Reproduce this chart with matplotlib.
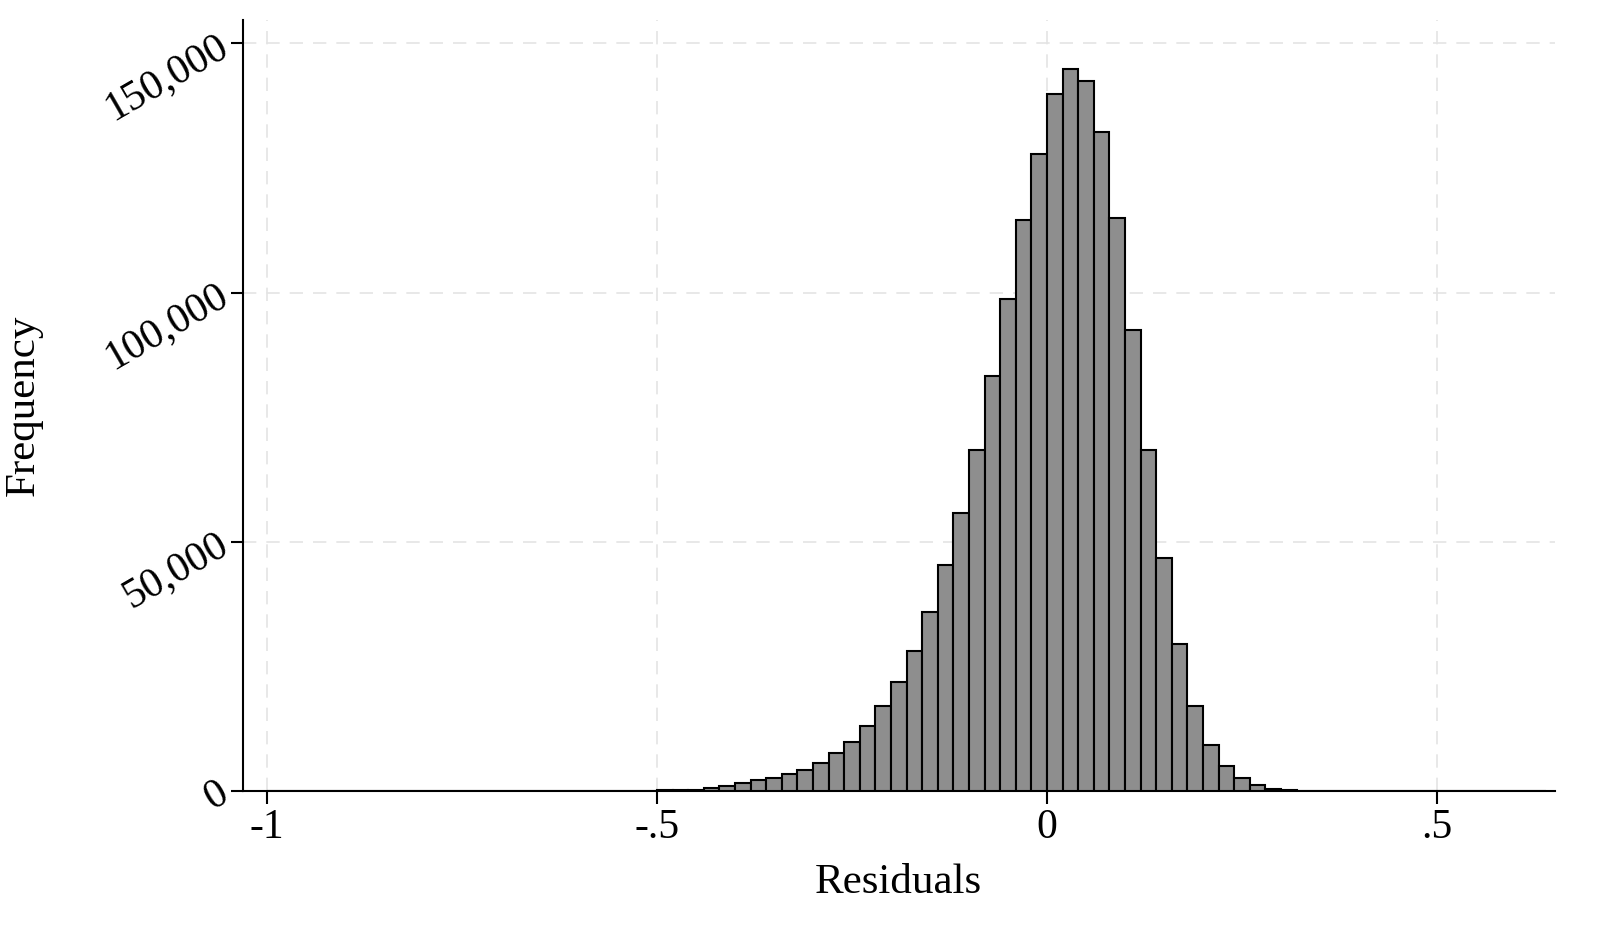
import matplotlib.pyplot as plt
import numpy as np
from matplotlib.ticker import FuncFormatter

plt.rcParams["font.family"] = ["Liberation Serif", "DejaVu Serif"]

# bin width 0.02, left edges from -1.00 up to 0.62
bin_width = 0.02
bin_left = np.round(np.arange(-1.0, 0.64, bin_width), 2)

# counts (from -1.00 up)
tail_left = [80, 60, 50, 40, 40, 30, 30, 30, 30, 30, 30, 30, 30, 30, 30,
             20, 20, 20, 20, 20, 30, 40, 50, 60, 100, 150]      # -1.00 .. -0.50
core = [200, 300, 600, 1000, 1700, 2200, 2600, 3400, 4300, 5700,
        7600, 9800, 13000, 17000, 21900, 28200, 35900, 45400, 55700, 68500,
        83300, 98700, 114500, 127700,                          # -0.48 .. -0.02
        139800, 144800, 142400, 132100, 115000, 92400, 68500, 46800,
        29600, 17000, 9200, 5000, 2700, 1200, 500, 200]        # 0.00 .. 0.30
tail_right = [100, 60, 50, 40, 40, 40, 30, 30, 30, 30, 30, 30, 30, 30,
              30, 30]                                           # 0.32 .. 0.62
counts = np.array(tail_left + core + tail_right, dtype=float)
n = min(len(counts), len(bin_left))
counts = counts[:n]
bin_left = bin_left[:n]

fig = plt.figure(figsize=(16.18, 9.43), dpi=100)
ax = fig.add_axes([0.150, 0.161, 0.811, 0.818])

ax.bar(bin_left, counts, width=bin_width, align="edge",
       color="#8e8e8e", edgecolor="black", linewidth=1.5, zorder=3)

ax.set_xlim(-1.031, 0.651)
ax.set_ylim(0, 154700)
ax.set_xticks([-1, -0.5, 0, 0.5])
ax.set_xticklabels(["-1", "-.5", "0", ".5"])
ax.set_yticks([0, 50000, 100000, 150000])
ax.yaxis.set_major_formatter(FuncFormatter(lambda v, p: f"{int(v):,}"))
ax.grid(True, color="#e4e4e4", linestyle=(0, (8, 6)), linewidth=1.2, zorder=0)

for s in ["top", "right"]:
    ax.spines[s].set_visible(False)
ax.spines["left"].set_linewidth(1.5)
ax.spines["bottom"].set_linewidth(1.5)

ax.tick_params(axis="both", labelsize=30, width=1.5, length=9)
for lbl in ax.get_yticklabels():
    lbl.set_rotation(30)
    lbl.set_rotation_mode("anchor")
    lbl.set_ha("right")
    lbl.set_va("center")

ax.set_xlabel("Residuals", fontsize=31, labelpad=12)
ax.set_ylabel("Frequency", fontsize=31, labelpad=40)

fig.savefig("out.png", dpi=100, facecolor="white")
